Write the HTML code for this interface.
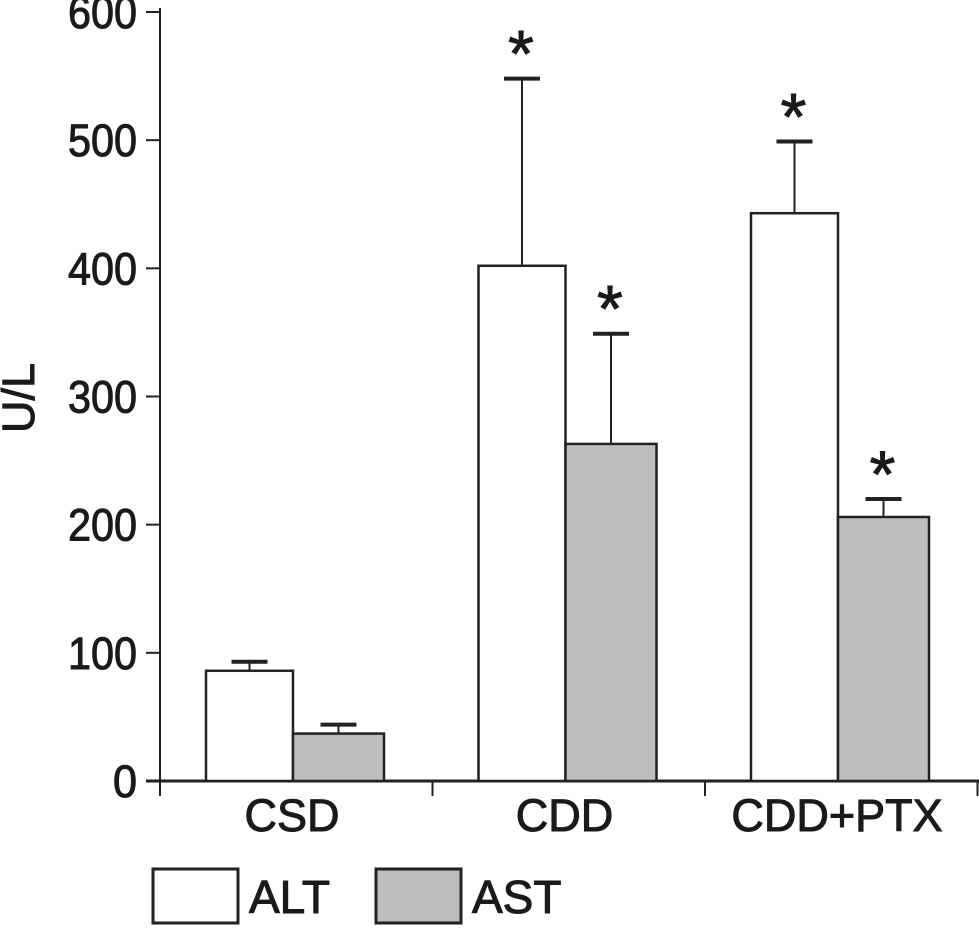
<!DOCTYPE html>
<html><head><meta charset="utf-8"><style>
body{margin:0;background:#fff}
svg text{font-family:"Liberation Sans",sans-serif;fill:#1a1a1a;stroke:#1a1a1a;stroke-width:1}
</style></head><body>
<svg width="979" height="925" xmlns="http://www.w3.org/2000/svg">
<g id="g"></g>
</svg>
<script>
const categories=["CSD","CDD","CDD+PTX"];
const altValues=[86,402,443];
const altErrors=[93,548,499];
const astValues=[37,263,206];
const astErrors=[44,349,220];
const yTicks=[0,100,200,300,400,500,600];
const altStars=[false,true,true];
const astStars=[false,true,true];
const NS="http://www.w3.org/2000/svg";
const g=document.getElementById('g');
const x0=160,y0=781,ppu=(781-12)/600,groupW=272.5;
const y=v=>y0-v*ppu;
function mk(t,a){const e=document.createElementNS(NS,t);for(const k in a)e.setAttribute(k,a[k]);g.appendChild(e);return e;}
let ax=mk('line',{x1:x0,y1:8,x2:x0,y2:796,stroke:'#222','stroke-width':2});


let bx=mk('line',{x1:146,y1:y0,x2:979,y2:y0,stroke:'#222','stroke-width':3});


yTicks.forEach(v=>{
  let t=mk('line',{x1:146,y1:y(v),x2:x0,y2:y(v),stroke:'#222','stroke-width':2});
  
  
  let l=mk('text',{x:137,y:y(v)+16,'text-anchor':'end','font-size':45,'textLength':v==0?24:69,'lengthAdjust':'spacingAndGlyphs'});
  l.textContent=v;
  
  
});
for(let i=0;i<=3;i++){
  let t=mk('line',{x1:x0+i*groupW,y1:y0,x2:x0+i*groupW,y2:796,stroke:'#222','stroke-width':2});
  
  
}
function bar(xl,w,v,e,fill,star,name){
  let r=mk('rect',{x:xl,y:y(v),width:w,height:y0-y(v),fill:fill,stroke:'#222','stroke-width':2.5});
  
  
  let cx=xl+w/2;
  let el=mk('line',{x1:cx,y1:y(v),x2:cx,y2:y(e),stroke:'#222','stroke-width':2});
  
  
  let cap=mk('line',{x1:cx-18,y1:y(e),x2:cx+18,y2:y(e),stroke:'#222','stroke-width':4});
  
  
  if(star){let s=mk('text',{x:cx-1,y:y(e)-2,'text-anchor':'middle','font-size':66});s.textContent='*';
  
  }
}
categories.forEach((c,i)=>{
  let gx=x0+i*groupW;
  bar(gx+46,87,altValues[i],altErrors[i],'#fff',altStars[i],'bar-alt-'+c.toLowerCase());
  bar(gx+133,91,astValues[i],astErrors[i],'#bdbdbd',astStars[i],'bar-ast-'+c.toLowerCase());
  let l=mk('text',{x:gx+132,y:831,'text-anchor':'middle','font-size':45});
  l.textContent=c;
  
  
});
let yt=mk('text',{x:0,y:0,'font-size':45,'text-anchor':'middle',transform:'translate(34,398) rotate(-90)'});
yt.textContent='U/L';


[['ALT','#fff',153],['AST','#bdbdbd',376]].forEach(([n,f,lx])=>{
  let r=mk('rect',{x:lx,y:869,width:85,height:54,fill:f,stroke:'#222','stroke-width':3});
  
  
  let t=mk('text',{x:lx+96,y:913,'font-size':46});t.textContent=n;
  
  
});
</script>
</body></html>
